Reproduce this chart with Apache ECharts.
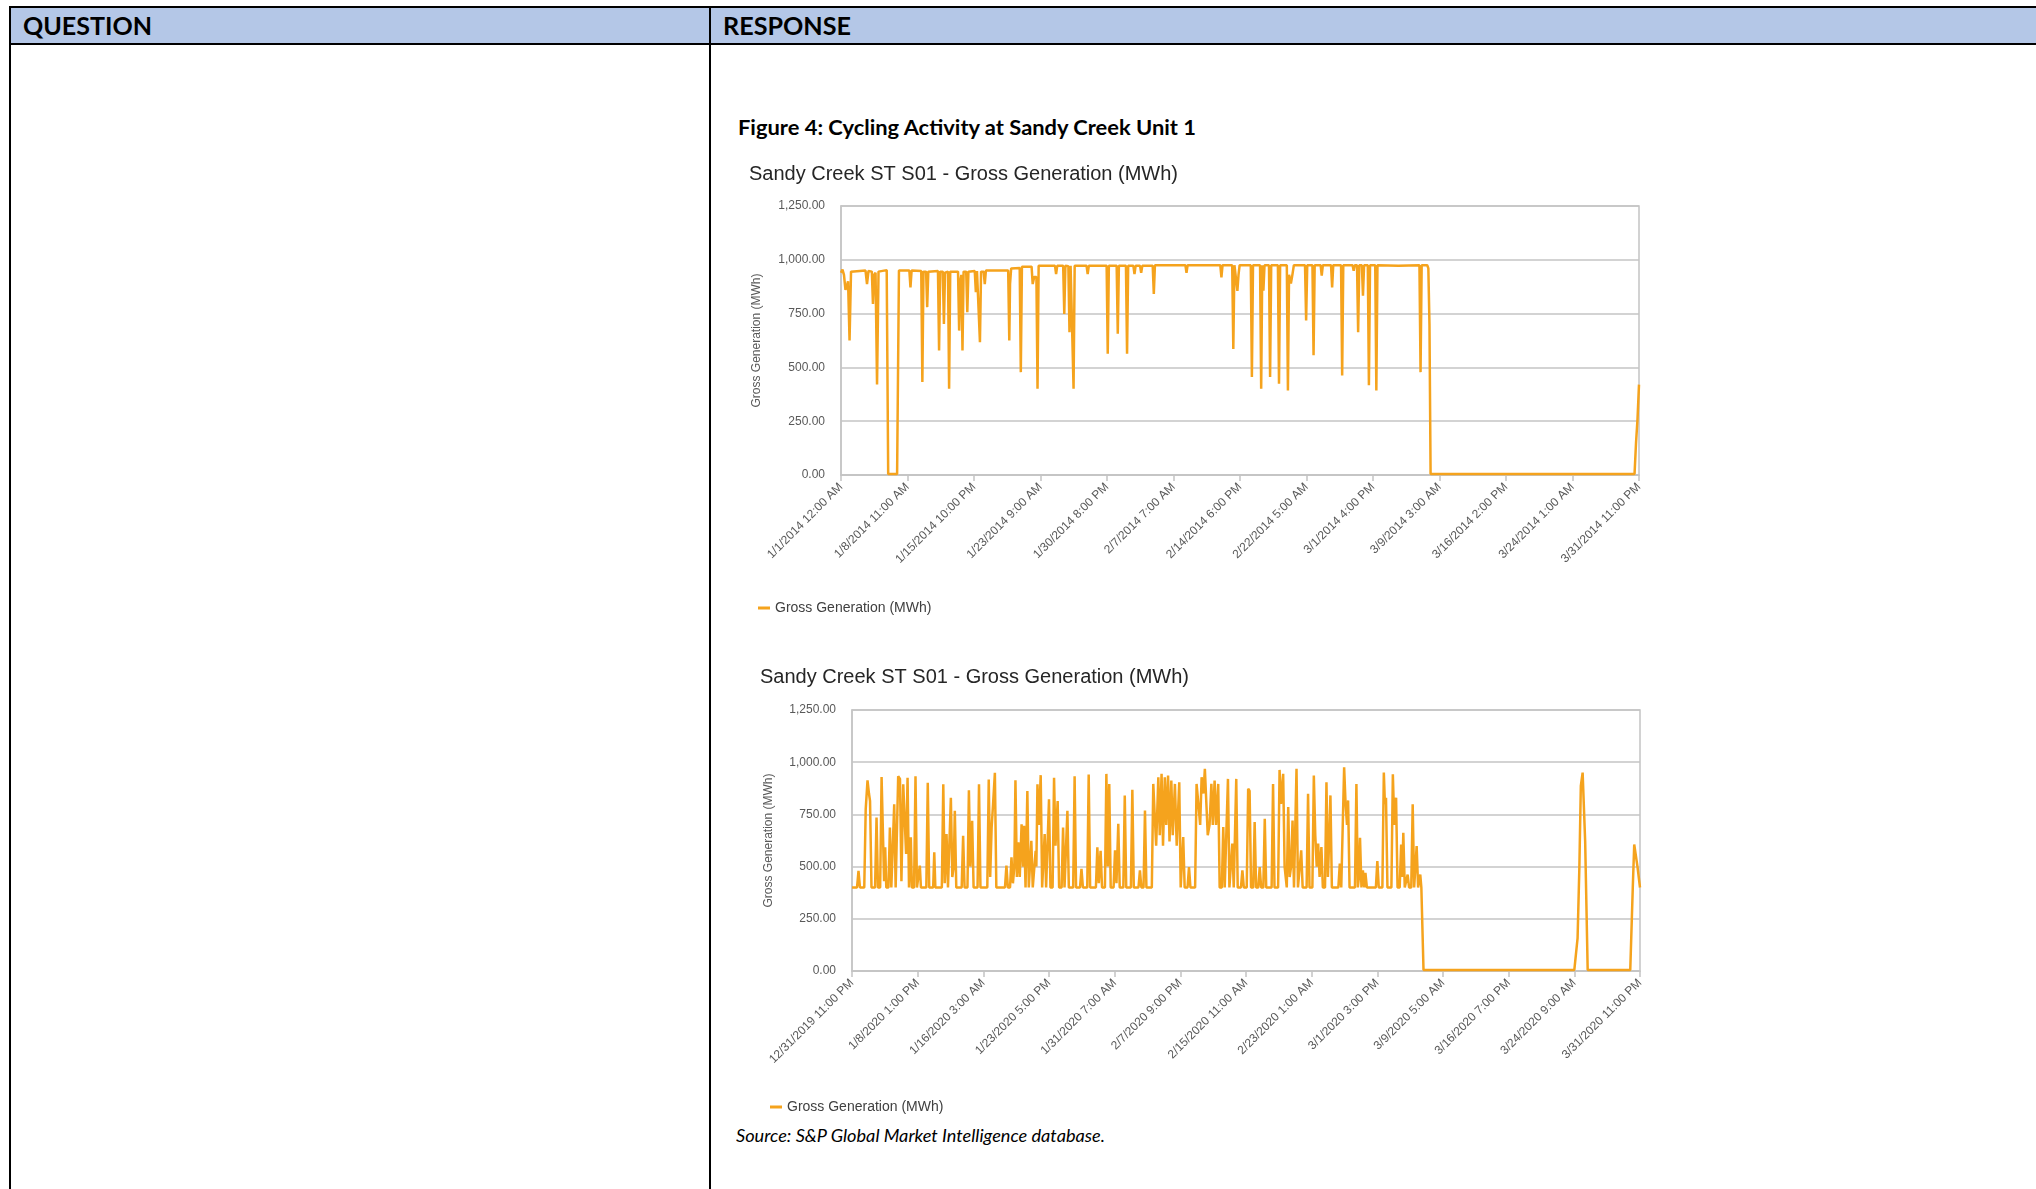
<!DOCTYPE html>
<html><head><meta charset="utf-8">
<script src="https://cdn.jsdelivr.net/npm/echarts@6.0.0/dist/echarts.min.js"></script>
<style>
html,body{margin:0;padding:0;background:#fff;width:2036px;height:1189px;overflow:hidden;}
.ln{position:absolute;background:#000;}
.txt{position:absolute;white-space:nowrap;display:inline-block;transform-origin:0 50%;color:#000;}
#chart{position:absolute;left:0;top:0;width:2036px;height:1189px;}
</style></head>
<body>
<div style="position:absolute;left:9px;top:6px;width:2027px;height:39px;background:#B4C7E7;"></div>
<div class="ln" style="left:9px;top:6px;width:2027px;height:2px;"></div>
<div class="ln" style="left:9px;top:43px;width:2027px;height:2px;"></div>
<div class="ln" style="left:9px;top:6px;width:2px;height:1183px;"></div>
<div class="ln" style="left:709px;top:6px;width:2px;height:1183px;"></div>
<div id="tQ" class="txt" style="left:23px;top:12px;font:bold 24px/28px Lato,'Open Sans',sans-serif;">QUESTION</div>
<div id="tR" class="txt" style="left:723px;top:12px;font:bold 24px/28px Lato,'Open Sans',sans-serif;">RESPONSE</div>
<div id="tF" class="txt" style="left:738px;top:115px;font:bold 20px/24px Lato,'Open Sans',sans-serif;">Figure 4: Cycling Activity at Sandy Creek Unit 1</div>
<div id="tS" class="txt" style="left:736px;top:1126px;font:italic 16.5px/20px Lato,'Open Sans',sans-serif;">Source: S&amp;P Global Market Intelligence database.</div>
<div id="chart"></div>
<script>
// ---------- data ----------
const xLabels1 = ['1/1/2014 12:00 AM','1/8/2014 11:00 AM','1/15/2014 10:00 PM','1/23/2014 9:00 AM','1/30/2014 8:00 PM','2/7/2014 7:00 AM','2/14/2014 6:00 PM','2/22/2014 5:00 AM','3/1/2014 4:00 PM','3/9/2014 3:00 AM','3/16/2014 2:00 PM','3/24/2014 1:00 AM','3/31/2014 11:00 PM'];
const xLabels2 = ['12/31/2019 11:00 PM','1/8/2020 1:00 PM','1/16/2020 3:00 AM','1/23/2020 5:00 PM','1/31/2020 7:00 AM','2/7/2020 9:00 PM','2/15/2020 11:00 AM','2/23/2020 1:00 AM','3/1/2020 3:00 PM','3/9/2020 5:00 AM','3/16/2020 7:00 PM','3/24/2020 9:00 AM','3/31/2020 11:00 PM'];
const yTicks = [0, 250, 500, 750, 1000, 1250];
const hoursStep1 = 179, hoursStep2 = 182;

// 2014 series: hour index from start, gross generation (MWh)
const hours1 = [0,4,8,12,16,19,23,27,32,66,70,74,83,86,89,93,97,101,106,123,127,151,156,184,187,190,216,219,222,229,232,235,261,264,267,274,277,280,288,291,294,315,318,321,324,327,330,337,340,343,360,363,366,371,374,377,384,387,390,450,453,455,458,481,484,487,513,516,520,526,529,532,576,579,582,598,601,604,612,615,618,623,626,629,661,664,667,715,718,721,742,745,748,767,770,773,787,790,793,805,808,811,839,842,845,927,930,933,1021,1024,1027,1053,1056,1059,1064,1067,1070,1073,1103,1106,1109,1128,1131,1134,1137,1140,1152,1155,1158,1176,1179,1182,1200,1203,1206,1211,1215,1219,1249,1252,1255,1269,1272,1275,1291,1294,1297,1319,1322,1325,1346,1349,1352,1377,1380,1383,1389,1392,1395,1402,1405,1408,1418,1421,1424,1438,1441,1444,1500,1557,1560,1563,1578,1581,1584,1587,2136,2140,2144,2148];
const gen1 = [940,955,930,860,880,900,625,945,950,950,887,948,945,795,930,940,421,945,952,952,5,5,950,950,872,950,948,432,945,945,780,945,948,579,945,945,702,940,945,401,945,945,671,900,930,579,945,945,756,945,948,849,948,945,617,945,945,887,950,950,625,887,960,962,478,968,968,887,920,920,401,972,972,934,972,972,748,972,970,664,972,972,401,972,972,934,972,972,563,972,972,656,972,972,563,972,972,934,972,972,940,972,972,841,975,975,940,975,975,918,975,975,586,975,975,856,930,975,975,455,975,975,401,975,856,975,975,455,975,975,424,975,975,393,930,890,930,975,975,718,975,975,556,975,975,926,975,975,872,975,975,463,975,975,949,975,975,664,975,975,833,975,975,417,975,975,393,975,972,975,478,975,975,960,700,5,5,150,260,420];

// 2020 series: hour index from start, gross generation (MWh)
const hours2 = [0,14,18,22,34,38,43,47,50,54,64,68,72,78,82,86,89,92,95,101,105,109,113,117,121,124,128,133,137,142,147,150,154,158,160,163,166,172,176,180,185,188,191,206,210,214,225,228,231,249,253,257,262,266,270,274,278,282,285,289,304,308,312,320,324,328,333,337,348,352,356,375,379,383,387,391,396,400,424,428,432,438,442,446,450,453,457,461,465,470,474,477,481,483,486,490,494,497,501,505,509,511,514,518,523,527,530,534,538,542,546,550,556,560,564,570,574,581,585,589,593,597,601,613,617,621,632,636,640,652,656,660,676,680,684,689,693,701,705,709,713,717,725,729,733,738,742,752,756,760,773,777,781,794,798,802,808,812,816,831,835,839,843,849,853,858,862,867,871,876,880,885,889,895,900,907,911,914,918,922,930,934,938,951,955,960,965,969,974,978,982,986,991,996,1000,1005,1009,1015,1019,1025,1029,1033,1038,1042,1046,1050,1054,1058,1061,1065,1069,1078,1082,1086,1094,1098,1102,1106,1112,1116,1120,1126,1130,1134,1140,1144,1148,1163,1167,1171,1181,1185,1189,1195,1199,1205,1209,1213,1217,1221,1225,1228,1232,1236,1241,1245,1249,1260,1264,1268,1276,1280,1284,1288,1292,1296,1301,1305,1311,1315,1319,1322,1326,1330,1348,1352,1356,1360,1364,1368,1372,1375,1379,1394,1398,1402,1405,1408,1412,1416,1420,1423,1427,1452,1456,1460,1470,1474,1477,1480,1484,1495,1499,1503,1508,1512,1518,1522,1525,1528,1532,1536,1540,1544,1550,1554,1558,1562,1565,1569,1572,1575,1578,1580,1584,2002,2011,2016,2020,2025,2030,2032,2039,2157,2164,2168,2173,2177,2184];
const gen2 = [400,400,480,400,400,775,913,850,814,400,400,735,400,400,929,925,430,592,400,400,687,400,400,798,400,400,933,920,430,894,900,560,925,400,400,640,400,400,933,400,400,505,400,400,902,400,400,568,400,400,894,420,656,400,400,830,450,500,767,400,400,648,400,400,865,500,719,400,400,894,400,400,917,450,687,800,949,400,400,505,400,400,545,420,500,913,450,616,450,703,500,695,400,400,862,400,400,624,400,400,576,500,894,700,938,400,400,656,400,400,822,400,400,925,600,814,400,400,687,400,400,767,400,400,933,400,400,489,400,400,941,400,400,592,420,576,400,400,944,500,896,400,400,578,420,705,400,400,841,400,400,868,400,400,482,400,400,769,400,400,896,896,600,928,650,944,600,928,700,936,620,912,650,896,600,904,400,400,642,400,400,498,400,400,896,800,700,928,850,968,960,650,700,896,700,912,700,896,400,400,690,400,400,920,400,400,610,400,400,920,400,400,482,400,400,873,862,400,400,713,400,400,498,400,400,729,400,400,896,400,400,963,800,944,500,400,785,450,500,721,400,400,968,400,400,578,400,400,849,400,400,936,650,500,610,450,594,400,400,904,450,600,841,400,400,514,400,400,976,800,700,817,400,400,896,400,450,638,400,482,400,470,400,400,526,400,400,950,800,830,400,400,942,700,830,400,400,606,450,662,400,400,462,400,400,798,400,400,598,400,400,462,400,405,5,5,157,500,886,950,958,622,5,5,400,606,614,500,400];

// ---------- chart ----------
const ORANGE = '#F5A31D';
const GRID = '#C4C4C4';
const LABEL = '#595959';
const FONT = "'Liberation Sans', Arial, sans-serif";
const fmtY = v => v.toLocaleString('en-US', {minimumFractionDigits: 2, maximumFractionDigits: 2});

function xAxisCfg(gi, step, labels) {
  return {
    type: 'value', gridIndex: gi, min: 0, max: step * (labels.length - 1), interval: step,
    axisLine: {show: true, lineStyle: {color: GRID, width: 1.5}},
    axisTick: {show: true, length: 6, lineStyle: {color: GRID, width: 1.5}},
    splitLine: {show: false},
    axisLabel: {rotate: 45, margin: 10, color: LABEL, fontSize: 12, fontFamily: FONT,
      showMinLabel: true, showMaxLabel: true,
      formatter: v => labels[Math.round(v / step)] || ''}
  };
}
function yAxisCfg(gi, gap) {
  return {
    type: 'value', gridIndex: gi, min: yTicks[0], max: yTicks[yTicks.length - 1], interval: yTicks[1] - yTicks[0],
    name: 'Gross Generation (MWh)', nameLocation: 'middle', nameRotate: 90, nameGap: gap,
    nameTextStyle: {color: LABEL, fontSize: 12, fontFamily: FONT},
    axisLine: {show: true, lineStyle: {color: GRID, width: 1.5}},
    axisTick: {show: false},
    splitLine: {show: true, lineStyle: {color: GRID, width: 1.5}},
    axisLabel: {margin: 16, color: LABEL, fontSize: 12, fontFamily: FONT, formatter: fmtY}
  };
}
const seriesName = 'Gross Generation (MWh)';
const chart = echarts.init(document.getElementById('chart'), null, {renderer: 'canvas'});
chart.setOption({
  animation: false,
  backgroundColor: 'transparent',
  textStyle: {fontFamily: FONT},
  title: [
    {text: 'Sandy Creek ST S01 - Gross Generation (MWh)', left: 744, top: 159,
     textStyle: {fontSize: 20, fontWeight: 'normal', color: '#262626', fontFamily: FONT}},
    {text: 'Sandy Creek ST S01 - Gross Generation (MWh)', left: 755, top: 662,
     textStyle: {fontSize: 20, fontWeight: 'normal', color: '#262626', fontFamily: FONT}}
  ],
  legend: [
    {left: 753, top: 596, icon: 'rect', itemWidth: 12, itemHeight: 3, itemGap: 10,
     data: [seriesName], textStyle: {fontSize: 14, color: '#404040', fontFamily: FONT}},
    {left: 765, top: 1095, icon: 'rect', itemWidth: 12, itemHeight: 3, itemGap: 10,
     data: [seriesName], textStyle: {fontSize: 14, color: '#404040', fontFamily: FONT}}
  ],
  grid: [
    {left: 841, top: 206, width: 798, height: 269, show: true, borderColor: GRID, borderWidth: 1.5},
    {left: 852, top: 710, width: 788, height: 261, show: true, borderColor: GRID, borderWidth: 1.5}
  ],
  xAxis: [xAxisCfg(0, hoursStep1, xLabels1), xAxisCfg(1, hoursStep2, xLabels2)],
  yAxis: [yAxisCfg(0, 78), yAxisCfg(1, 77)],
  series: [
    {name: seriesName, type: 'line', xAxisIndex: 0, yAxisIndex: 0, showSymbol: false,
     lineStyle: {color: ORANGE, width: 2.5}, itemStyle: {color: ORANGE},
     data: hours1.map((h, i) => [h, gen1[i]])},
    {name: seriesName, type: 'line', xAxisIndex: 1, yAxisIndex: 1, showSymbol: false,
     lineStyle: {color: ORANGE, width: 2.5}, itemStyle: {color: ORANGE},
     data: hours2.map((h, i) => [h, gen2[i]])}
  ]
});

// fit html texts to their measured widths in the reference
function fit(id, w) {
  const el = document.getElementById(id);
  const r = el.getBoundingClientRect().width;
  if (r > 0) el.style.transform = 'scaleX(' + (w / r) + ')';
}
fit('tQ', 129); fit('tR', 128); fit('tF', 458); fit('tS', 369);
</script>
</body></html>
